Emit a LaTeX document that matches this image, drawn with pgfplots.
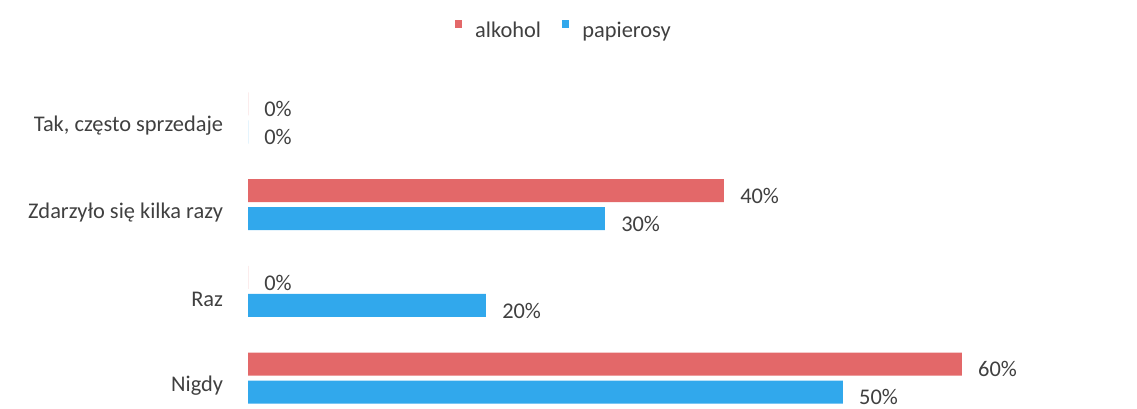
\documentclass[border=0pt]{standalone}
\usepackage{pgfplots}
\pgfplotsset{compat=1.18}
\usepackage{fontspec}
\setmainfont{Carlito}
\definecolor{alkred}{HTML}{E36869}
\definecolor{papblue}{HTML}{31A8EC}
\definecolor{txtgray}{HTML}{404040}
\begin{document}
\begin{tikzpicture}
\fontsize{16.8}{20}\selectfont
% 1 px of the reference = 0.75pt
\useasboundingbox (0,0) rectangle (852.75pt,306pt);
\begin{axis}[
    at={(186pt,0pt)}, anchor=south west,
    scale only axis,
    width=666.75pt, height=306pt,
    xbar,
    xmin=0, xmax=74.71,
    y dir=reverse,
    ymin=-1.361, ymax=3.345,
    bar width=17.25pt,
    axis line style={draw=none},
    tick style={draw=none},
    xtick=\empty,
    ytick={0,1,2,3},
    yticklabels={{Tak, często sprzedaje},{Zdarzyło się kilka razy},{Raz},{Nigdy}},
    yticklabel style={anchor=east, inner sep=0pt, xshift=-14.25pt, yshift=-6pt, text=txtgray},
    /pgf/number format/assume math mode=true,
    nodes near coords={\pgfmathprintnumber\pgfplotspointmeta\%},
    every node near coord/.append style={anchor=west, inner sep=0pt, xshift=12pt, yshift=-4pt, text=txtgray},
    legend columns=-1,
    legend style={at={(0.2328,0.953)}, anchor=north west, draw=none, fill=none, inner sep=0pt,
        text=txtgray,
        /tikz/every odd column/.append style={column sep=8pt},
        /tikz/every even column/.append style={column sep=14pt}},
    legend image code/.code={\fill[#1] (0pt,2.5pt) rectangle (5pt,9pt);},
]
\addplot[fill=alkred, draw=none, bar shift=10.5pt] coordinates {(0,0) (40,1) (0,2) (60,3)};
\addplot[fill=papblue, draw=none, bar shift=-10.5pt] coordinates {(0,0) (30,1) (20,2) (50,3)};
\legend{alkohol, papierosy}
\end{axis}
\end{tikzpicture}
\end{document}
